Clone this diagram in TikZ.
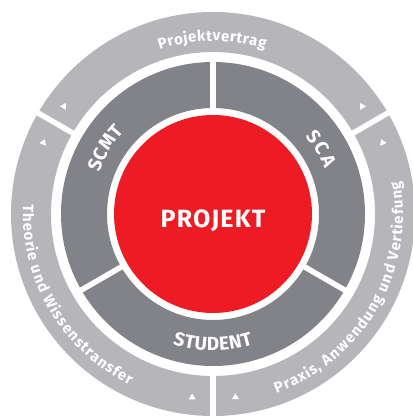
\documentclass[tikz,border=0pt]{standalone}
\usepackage{fontspec}
\setmainfont{Fira Sans}
\usetikzlibrary{decorations.text}
\definecolor{lightg}{HTML}{B6B6BA}
\definecolor{darkg}{HTML}{818389}
\definecolor{projred}{HTML}{ED1C24}
\tikzset{
  gapline/.style={white, line width=5.5pt},
  marker/.style={fill=white},
  fittext/.style 2 args={decorate, decoration={text effects along path, text={#2}, text effects/.cd, text along path, fit text to path, characters={text=white, font=\fontsize{#1}{#1}\selectfont\bfseries}}}
}
\begin{document}
\begin{tikzpicture}[x=1pt,y=1pt]
\useasboundingbox (-213,-205) rectangle (199,214);
% outer ring
\fill[lightg, even odd rule] (0,0) circle (202) (0,0) circle (162);
\foreach \a in {30,150,270} \draw[gapline] (\a:157) -- (\a:207);
% dark ring
\fill[darkg, even odd rule] (0,0) circle (152) (0,0) circle (106);
\foreach \a in {90,210,330} \draw[gapline] (\a:102) -- (\a:156);
% red core
\fill[projred] (0,0) circle (99);
\node[text=white, font=\fontsize{25}{25}\selectfont\bfseries\addfontfeature{LetterSpace=5}] (p) at (0,-7) {PROJEKT};
% triangle markers (position angle / apex direction)
\foreach \a/\d in {144/60,36/120,157/65,263.5/90,277/90,23/115}
  \fill[marker, shift={(\a:184)}, rotate=\d-90] (0,3.2) -- (-3.5,-2.5) -- (3.5,-2.5) -- cycle;
% outer texts
\path[fittext={15}{Projektvertrag}] (108:173) arc[start angle=108, end angle=72.5, radius=173];
\path[fittext={15}{Theorie und Wissenstransfer}] (177:190) arc[start angle=177, end angle=244, radius=190];
\path[fittext={15}{Praxis{,} Anwendung und Vertiefung}] (289.5:190) arc[start angle=289.5, end angle=370, radius=190];
% inner ring texts
\path[fittext={19}{SCMT}] (160:121) arc[start angle=160, end angle=137, radius=121];
\path[fittext={19}{SCA}] (40:121) arc[start angle=40, end angle=22, radius=121];
\path[fittext={19}{STUDENT}] (252.8:136.5) arc[start angle=252.8, end angle=287, radius=136.5];
\end{tikzpicture}
\end{document}
